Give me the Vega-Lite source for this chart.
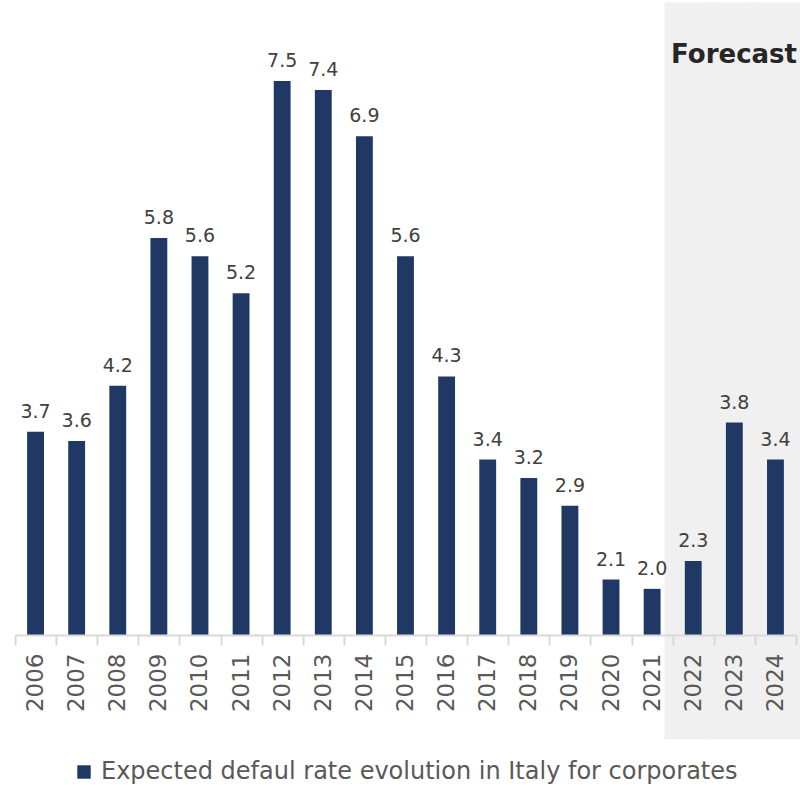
{
  "$schema": "https://vega.github.io/schema/vega-lite/v6.json",
  "autosize": "none",
  "width": 781,
  "height": 628,
  "padding": {"left": 15, "top": 7, "right": 4, "bottom": 150},
  "background": "white",
  "config": {"view": {"stroke": null}, "font": "DejaVu Sans"},
  "data": {"values": [
    {"year": "2006", "rate": 3.7, "period": "Actual"},
    {"year": "2007", "rate": 3.6, "period": "Actual"},
    {"year": "2008", "rate": 4.2, "period": "Actual"},
    {"year": "2009", "rate": 5.8, "period": "Actual"},
    {"year": "2010", "rate": 5.6, "period": "Actual"},
    {"year": "2011", "rate": 5.2, "period": "Actual"},
    {"year": "2012", "rate": 7.5, "period": "Actual"},
    {"year": "2013", "rate": 7.4, "period": "Actual"},
    {"year": "2014", "rate": 6.9, "period": "Actual"},
    {"year": "2015", "rate": 5.6, "period": "Actual"},
    {"year": "2016", "rate": 4.3, "period": "Actual"},
    {"year": "2017", "rate": 3.4, "period": "Actual"},
    {"year": "2018", "rate": 3.2, "period": "Actual"},
    {"year": "2019", "rate": 2.9, "period": "Actual"},
    {"year": "2020", "rate": 2.1, "period": "Actual"},
    {"year": "2021", "rate": 2.0, "period": "Actual"},
    {"year": "2022", "rate": 2.3, "period": "Forecast"},
    {"year": "2023", "rate": 3.8, "period": "Forecast"},
    {"year": "2024", "rate": 3.4, "period": "Forecast"}
  ]},
  "encoding": {
    "x": {
      "field": "year", "type": "ordinal", "title": null,
      "scale": {"paddingInner": 0, "paddingOuter": 0},
      "axis": {
        "labelAngle": -90, "labelFontSize": 23, "labelColor": "#595959",
        "labelFont": "DejaVu Sans", "labelPadding": 8, "zindex": 1,
        "domainColor": "#d9d9d9", "domainWidth": 2,
        "tickColor": "#d9d9d9", "tickWidth": 2, "tickSize": 10, "tickBand": "extent",
        "grid": false
      }
    }
  },
  "layer": [
    {
      "transform": [{"filter": "datum.period == 'Forecast'"}],
      "mark": {"type": "bar", "color": "#f0f0f0", "width": {"band": 1.4}, "clip": false},
      "encoding": {
        "y": {"datum": 8.35, "type": "quantitative", "scale": {"domain": [1.5, 8.3], "zero": false, "nice": false}, "axis": null},
        "y2": {"datum": 0.37}
      }
    },
    {
      "mark": {"type": "bar", "width": {"band": 0.41}},
      "encoding": {
        "y": {"field": "rate", "type": "quantitative", "scale": {"domain": [1.5, 8.3], "zero": false, "nice": false}, "axis": null},
        "y2": {"datum": 1.5},
        "color": {
          "datum": "Expected defaul rate evolution in Italy for corporates",
          "type": "nominal",
          "scale": {"range": ["#1f3864"]},
          "legend": {
            "title": null, "orient": "none", "legendX": 57, "legendY": 753,
            "symbolType": "square", "symbolSize": 180, "symbolOffset": 0,
            "labelFontSize": 24, "labelColor": "#595959", "labelFont": "DejaVu Sans",
            "labelLimit": 800, "labelOffset": 5
          }
        }
      }
    },
    {
      "mark": {"type": "text", "dy": -14, "fontSize": 19, "color": "#404040", "baseline": "alphabetic"},
      "encoding": {
        "y": {"field": "rate", "type": "quantitative"},
        "text": {"field": "rate", "type": "quantitative", "format": ".1f"}
      }
    },
    {
      "data": {"values": [{"label": "Forecast"}]},
      "mark": {"type": "text", "align": "right", "baseline": "middle", "fontSize": 26, "fontWeight": "bold", "color": "#262626", "dx": 1, "clip": false},
      "encoding": {
        "x": {"datum": "2024", "bandPosition": 1},
        "y": {"datum": 7.78},
        "text": {"field": "label"}
      }
    }
  ]
}
